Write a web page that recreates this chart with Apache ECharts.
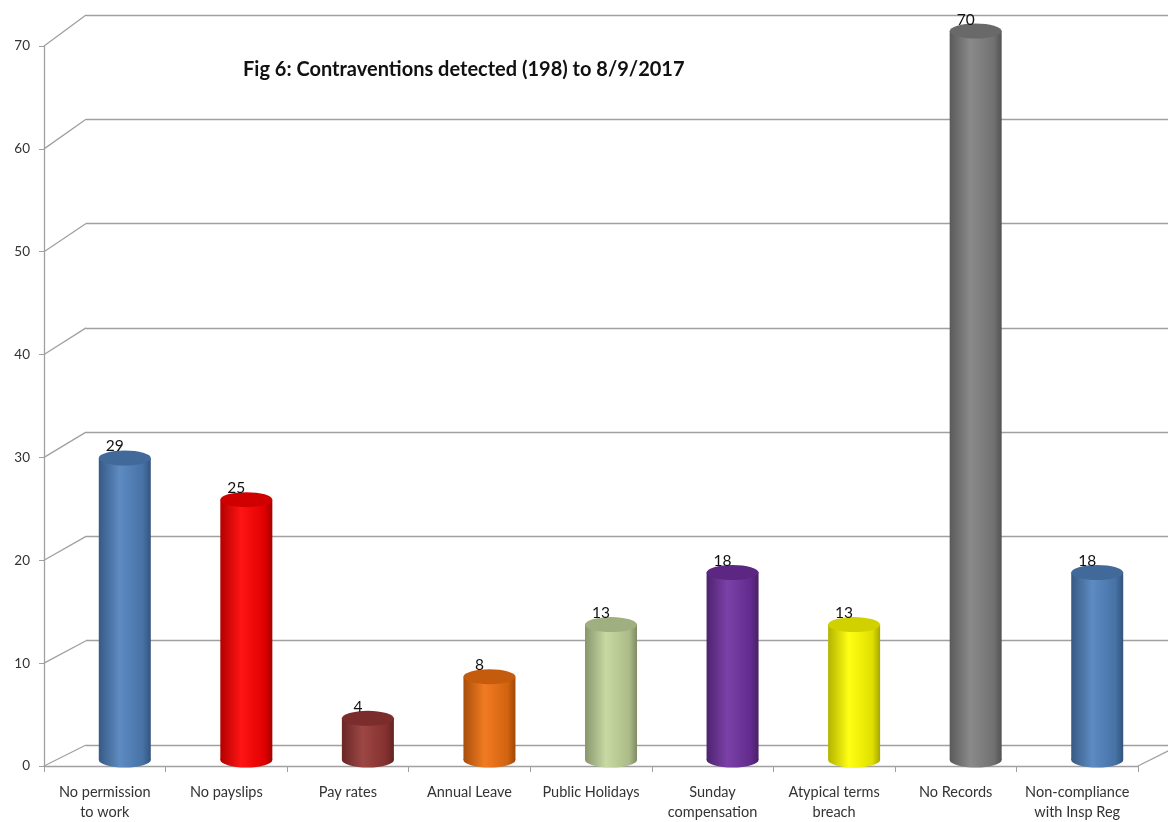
<!DOCTYPE html>
<html>
<head>
<meta charset="utf-8">
<script src="https://cdn.jsdelivr.net/npm/echarts@6/dist/echarts.min.js"></script>
<style>
  html, body { margin: 0; padding: 0; background: #fff; }
  #main { width: 1168px; height: 822px; }
</style>
</head>
<body>
<div id="main"></div>
<script>
var categories = ['No permission\nto work', 'No payslips', 'Pay rates', 'Annual Leave', 'Public Holidays',
  'Sunday\ncompensation', 'Atypical terms\nbreach', 'No Records', 'Non-compliance\nwith Insp Reg'];
var values = [29, 25, 4, 8, 13, 18, 13, 70, 18];
var colors = ['#4F81BD', '#FF0000', '#953735', '#F07010', '#C3D69B', '#7030A0', '#FFFF00', '#808080', '#4F81BD'];
var yTicks = [0, 10, 20, 30, 40, 50, 60, 70];

function shade(hex, f) {
  var n = parseInt(hex.slice(1), 16);
  var r = (n >> 16) & 255, g = (n >> 8) & 255, b = n & 255;
  function c(v) {
    v = f < 0 ? v * (1 + f) : v + (255 - v) * f;
    return Math.max(0, Math.min(255, Math.round(v)));
  }
  return 'rgb(' + c(r) + ',' + c(g) + ',' + c(b) + ')';
}

function bodyGrad(col) {
  return new echarts.graphic.LinearGradient(0, 0, 1, 0, [
    { offset: 0, color: shade(col, -0.3) },
    { offset: 0.4, color: shade(col, 0.08) },
    { offset: 0.85, color: shade(col, -0.12) },
    { offset: 1, color: shade(col, -0.35) }
  ]);
}

var bodyData = values.map(function (v, i) {
  return { value: v, itemStyle: { color: bodyGrad(colors[i]) } };
});
var topData = values.map(function (v, i) {
  return { value: v, itemStyle: { color: shade(colors[i], -0.18) } };
});

var font = 'Lato, "Liberation Sans", sans-serif';
var chart = echarts.init(document.getElementById('main'));

chart.setOption({
  animation: false,
  title: {
    text: 'Fig 6: Contraventions detected (198) to 8/9/2017',
    left: 238, top: 55,
    textStyle: { fontFamily: font, fontSize: 20, fontWeight: 'bold', color: '#111' }
  },
  grid: [
    { left: 44, right: 30, top: 46, bottom: 47 },
    { left: 86, right: 0, top: 15, bottom: 77 },
    { left: 64, right: 10, top: 31, bottom: 62 }
  ],
  xAxis: [
    {
      gridIndex: 0, type: 'category', data: categories,
      axisLine: { lineStyle: { color: '#A0A0A0', width: 1.3 } },
      axisTick: { show: true, length: 6, lineStyle: { color: '#A0A0A0' } },
      axisLabel: { fontFamily: font, fontSize: 14.5, color: '#333', margin: 16, lineHeight: 20, interval: 0 }
    },
    { gridIndex: 1, type: 'category', data: categories, show: false },
    { gridIndex: 2, type: 'category', data: categories, show: false }
  ],
  yAxis: [
    {
      gridIndex: 0, type: 'value', min: 0, max: 70, interval: 10,
      axisLine: { show: true, lineStyle: { color: '#A0A0A0', width: 1.3 } },
      axisTick: { show: true, length: 5, lineStyle: { color: '#A0A0A0' } },
      splitLine: { show: false },
      axisLabel: { fontFamily: font, fontSize: 13.5, color: '#333', margin: 14 }
    },
    {
      gridIndex: 1, type: 'value', min: 0, max: 70, interval: 10,
      axisLine: { show: false }, axisTick: { show: false }, axisLabel: { show: false },
      splitLine: { show: true, lineStyle: { color: '#A0A0A0', width: 1.3 } }
    },
    { gridIndex: 2, type: 'value', min: 0, max: 70, show: false }
  ],
  series: [
    {
      type: 'bar', xAxisIndex: 2, yAxisIndex: 2, data: bodyData, barWidth: 52, z: 3
    },
    {
      type: 'pictorialBar', xAxisIndex: 2, yAxisIndex: 2, data: bodyData,
      symbol: 'circle', symbolSize: [52, 15], symbolPosition: 'start', symbolOffset: [0, '50%'], z: 2
    },
    {
      type: 'pictorialBar', xAxisIndex: 2, yAxisIndex: 2, data: topData,
      symbol: 'circle', symbolSize: [52, 15], symbolPosition: 'end', symbolOffset: [0, '-50%'], z: 4,
      label: { show: true, position: 'top', distance: 0, offset: [-10, 4],
        fontFamily: font, fontSize: 15.5, color: '#111' }
    }
  ]
});

// 3D connectors from the front axis to the back wall
var g = [];
yTicks.forEach(function (t) {
  var y0 = chart.convertToPixel({ yAxisIndex: 0 }, t);
  var y1 = chart.convertToPixel({ yAxisIndex: 1 }, t);
  var x0 = chart.convertToPixel({ xAxisIndex: 0 }, 0) - 60.75;
  var x1 = chart.convertToPixel({ xAxisIndex: 1 }, 0) - 60.1;
  g.push({ type: 'line', z: 1, shape: { x1: x0, y1: y0, x2: x1, y2: y1 },
    style: { stroke: '#A0A0A0', lineWidth: 1.3 } });
});
var yb0 = chart.convertToPixel({ yAxisIndex: 0 }, 0);
var yb1 = chart.convertToPixel({ yAxisIndex: 1 }, 0);
var xr = chart.convertToPixel({ xAxisIndex: 0 }, categories.length - 1) + 60.75;
g.push({ type: 'line', z: 1, shape: { x1: xr, y1: yb0, x2: xr + 42, y2: yb1 },
  style: { stroke: '#A0A0A0', lineWidth: 1.3 } });
chart.setOption({ graphic: g });
</script>
</body>
</html>
